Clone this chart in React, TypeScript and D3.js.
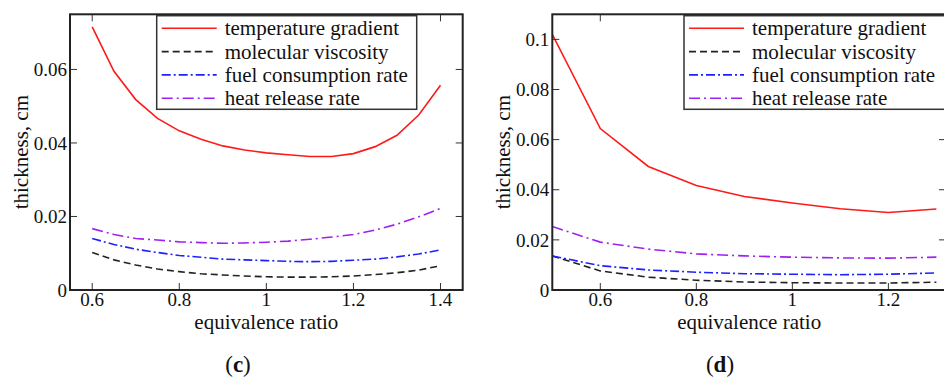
import React from "react";
import * as d3 from "d3";

// Panel (c)
const xC = [0.6, 0.65, 0.7, 0.75, 0.8, 0.85, 0.9, 0.95, 1.0, 1.05, 1.1, 1.15, 1.2, 1.25, 1.3, 1.35, 1.4];
const tempC = [0.0716, 0.0595, 0.0518, 0.0467, 0.0433, 0.041, 0.0392, 0.0381, 0.0373, 0.0368, 0.0363, 0.0363, 0.0371, 0.039, 0.0421, 0.0476, 0.0557];
const viscC = [0.0102, 0.0082, 0.0068, 0.0057, 0.005, 0.0044, 0.0041, 0.0038, 0.0036, 0.0035, 0.0035, 0.0036, 0.0038, 0.0042, 0.0047, 0.0054, 0.0066];
const fuelC = [0.014, 0.0124, 0.0111, 0.0102, 0.0094, 0.0089, 0.0084, 0.0082, 0.008, 0.0078, 0.0077, 0.0078, 0.0081, 0.0084, 0.009, 0.0098, 0.0109];
const heatC = [0.0167, 0.0151, 0.014, 0.0136, 0.0131, 0.0129, 0.0127, 0.0128, 0.013, 0.0133, 0.0138, 0.0144, 0.0151, 0.0163, 0.0179, 0.0199, 0.0222];
const xTicksC = [0.6, 0.8, 1.0, 1.2, 1.4];
const yTicksC = [0, 0.02, 0.04, 0.06];

// Panel (d)
const xD = [0.5, 0.6, 0.7, 0.8, 0.9, 1.0, 1.1, 1.2, 1.3];
const tempD = [0.102, 0.0644, 0.0493, 0.0417, 0.0373, 0.0347, 0.0324, 0.0309, 0.0323];
const viscD = [0.0136, 0.0076, 0.0051, 0.0039, 0.0032, 0.0029, 0.0028, 0.0028, 0.0031];
const fuelD = [0.0136, 0.0097, 0.008, 0.0071, 0.0065, 0.0063, 0.0061, 0.0063, 0.0068];
const heatD = [0.0253, 0.0191, 0.0163, 0.0144, 0.0136, 0.0131, 0.0128, 0.0127, 0.0131];
const xTicksD = [0.6, 0.8, 1.0, 1.2];
const yTicksD = [0, 0.02, 0.04, 0.06, 0.08, 0.1];

const seriesNames = ["temperature gradient", "molecular viscosity", "fuel consumption rate", "heat release rate"];
const seriesColors = ["#ff1a1a", "#222222", "#2020ff", "#a020f0"];
const seriesDash = ["", "7,4", "9,3,2,3", "11,4,2,4"];

const FONT = '"Liberation Serif", "Times New Roman", Times, "DejaVu Serif", serif';
const fmt = (v: number) => String(+v.toFixed(3));
const txt = (size: number, extra: any = {}) => ({ fontFamily: FONT, fontSize: size + "px", ...extra });

type PanelProps = {
  left: number; right: number; top: number; bottom: number;
  xDomain: [number, number]; yDomain: [number, number];
  xs: number[]; ys: number[][];
  xTicks: number[]; yTicks: number[];
  legendX: number; legendW: number;
  caption: string; ylabelX: number;
};

function Panel(p: PanelProps) {
  const x = d3.scaleLinear().domain(p.xDomain).range([p.left, p.right]);
  const y = d3.scaleLinear().domain(p.yDomain).range([p.bottom, p.top]);
  const line = d3.line<number>().x((_, i) => x(p.xs[i])).y((d) => y(d));
  const tl = 7;
  const plotCx = (p.left + p.right) / 2;
  const clipId = "clip" + p.caption;
  return (
    <g>
      <defs>
        <clipPath id={clipId}>
          <rect x={p.left} y={p.top} width={p.right - p.left} height={p.bottom - p.top} />
        </clipPath>
      </defs>
      <g clipPath={`url(#${clipId})`}>
        {p.ys.map((s, k) => (
          <path key={k} d={line(s) || ""} fill="none" stroke={seriesColors[k]} strokeWidth={1.6}
            strokeDasharray={seriesDash[k] || undefined} />
        ))}
      </g>
      {p.xTicks.map((t) => (
        <g key={"x" + t}>
          <line x1={x(t)} x2={x(t)} y1={p.bottom} y2={p.bottom - tl} stroke="#333" strokeWidth={1} />
          <line x1={x(t)} x2={x(t)} y1={p.top} y2={p.top + tl} stroke="#333" strokeWidth={1} />
          <text x={x(t)} y={p.bottom + 16} textAnchor="middle" style={txt(19)} fill="#111">{fmt(t)}</text>
        </g>
      ))}
      {p.yTicks.map((t) => (
        <g key={"y" + t}>
          <line x1={p.left} x2={p.left + tl} y1={y(t)} y2={y(t)} stroke="#333" strokeWidth={1} />
          <line x1={p.right} x2={p.right - tl} y1={y(t)} y2={y(t)} stroke="#333" strokeWidth={1} />
          <text x={p.left - 3} y={y(t)} dy="0.35em" textAnchor="end" style={txt(19)} fill="#111">{fmt(t)}</text>
        </g>
      ))}
      <rect x={p.left} y={p.top} width={p.right - p.left} height={p.bottom - p.top} fill="none" stroke="#222" strokeWidth={2} />
      <text x={plotCx} y={p.bottom + 39} textAnchor="middle" style={txt(21)} fill="#111">equivalence ratio</text>
      <text transform={`translate(${p.ylabelX},${(p.top + p.bottom) / 2}) rotate(-90)`} textAnchor="middle"
        style={txt(21)} fill="#111">thickness, cm</text>
      <rect x={p.legendX} y={15.7} width={p.legendW} height={93.6} fill="#fff" stroke="#333" strokeWidth={1.5} />
      {seriesNames.map((n, k) => {
        const ly = 28.3 + k * 23.3;
        return (
          <g key={n}>
            <line x1={p.legendX + 5} x2={p.legendX + 60} y1={ly} y2={ly} stroke={seriesColors[k]} strokeWidth={1.6}
              strokeDasharray={seriesDash[k] || undefined} />
            <text x={p.legendX + 68} y={ly + 7} style={txt(21)} fill="#111">{n}</text>
          </g>
        );
      })}
      <text x={p.caption === "c" ? 238 : 720} y={372} textAnchor="middle" style={txt(23)} fill="#111">
        (<tspan fontWeight="bold">{p.caption}</tspan>)
      </text>
    </g>
  );
}

export default function App() {
  return (
    <div style={{ position: "absolute", left: 0, top: 0, width: 944, height: 379, background: "#fff" }}>
      <svg width={944} height={379} style={{ display: "block" }}>
        <rect width={944} height={379} fill="#fff" />
        <Panel left={70} right={462.7} top={14.3} bottom={290}
          xDomain={[0.549, 1.451]} yDomain={[0, 0.075]}
          xs={xC} ys={[tempC, viscC, fuelC, heatC]}
          xTicks={xTicksC} yTicks={yTicksC}
          legendX={156.7} legendW={260} caption="c" ylabelX={28} />
        <Panel left={552.3} right={946} top={14.3} bottom={290}
          xDomain={[0.5, 1.32]} yDomain={[0, 0.11]}
          xs={xD} ys={[tempD, viscD, fuelD, heatD]}
          xTicks={xTicksD} yTicks={yTicksD}
          legendX={684} legendW={280} caption="d" ylabelX={510} />
      </svg>
    </div>
  );
}
